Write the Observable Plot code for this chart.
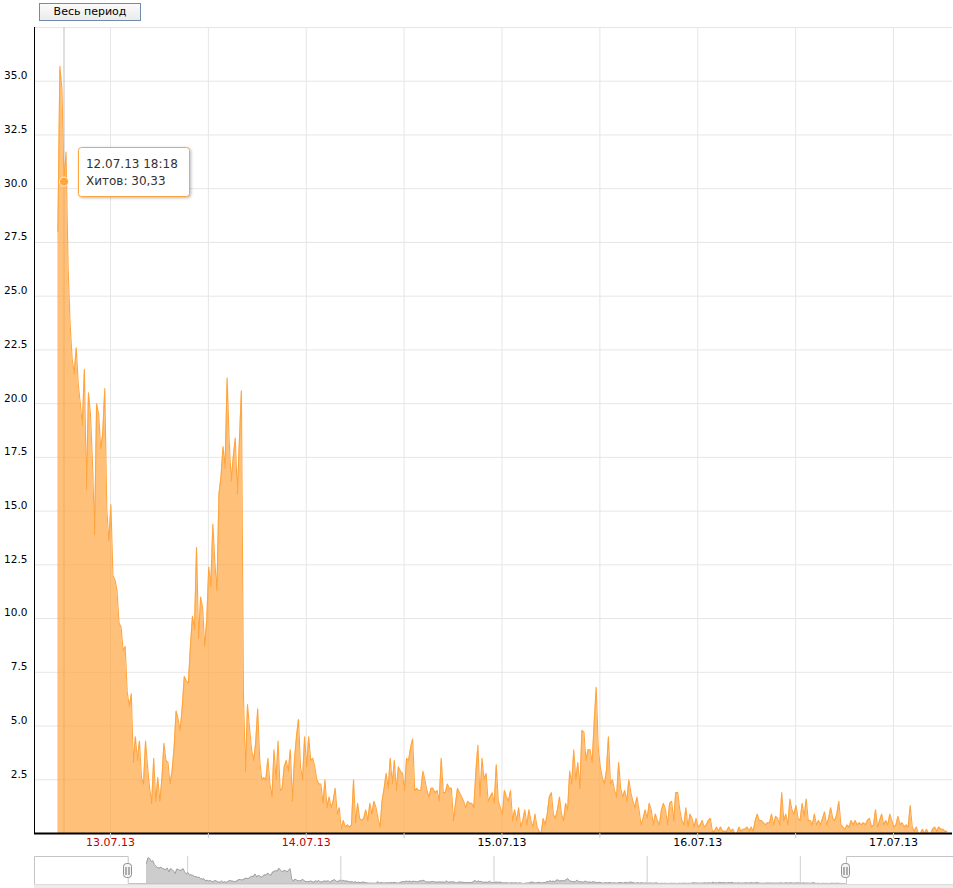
<!DOCTYPE html>
<html>
<head>
<meta charset="utf-8">
<script src="https://cdn.jsdelivr.net/npm/d3@7"></script>
<script src="https://cdn.jsdelivr.net/npm/@observablehq/plot@0.6"></script>
<style>
  html, body { margin: 0; padding: 0; background: #fff; }
  body { font-family: "DejaVu Sans", Verdana, sans-serif; }
  #wrap { position: relative; width: 953px; height: 888px; overflow: hidden; }
  #main { position: absolute; left: 0; top: 0; }
  #nav { position: absolute; left: 0; top: 846px; }
  #scroll { position: absolute; left: 34px; top: 884px; width: 919px; height: 4px; background: #ececec; border-top: 1px solid #dcdcdc; }
  #btn { position: absolute; left: 39px; top: 3px; width: 100px; height: 16px; border: 1px solid #6f8cab;
         background: linear-gradient(#fbfbfb, #ebebeb); font-size: 11px; line-height: 16px; text-align: center; color: #000; }
</style>
</head>
<body>
<div id="wrap">
  <div id="main"></div>
  <div id="nav"></div>
  <div id="scroll"></div>
  <div id="btn"></div>
</div>
<script>
// ---- data (hits per 15-minute interval) ----
const stepMinutes = 15;
const dayStarts = ["2013-07-12 17:33", "2013-07-13 00:03", "2013-07-14 00:03", "2013-07-15 00:03", "2013-07-16 00:03", "2013-07-17 00:03"];
const hits_12 = [28, 35.7, 34.6, 30.33, 31.7, 26.4, 23.7, 22.1, 21.4, 22.6, 20.9, 20.0, 19.0, 21.6, 16.0, 20.5, 19.5, 17.2, 13.9, 20.0, 19.5, 17.9, 18.6, 20.7, 15.1, 13.6];
const hits_13 = [
  15.3, 12.0, 11.8, 11.3, 9.8, 9.6, 8.5, 8.7, 6.6, 5.9,
  6.5, 3.3, 4.5, 3.4, 4.3, 2.6, 2.3, 4.3, 3.1, 2.1,
  1.4, 3.5, 1.5, 2.6, 1.5, 2.5, 4.2, 3.4, 3.3, 2.3,
  2.9, 4.0, 5.7, 5.3, 4.8, 5.9, 7.3, 7.1, 7.0, 8.7,
  10.1, 9.5, 13.3, 9.1, 11.0, 10.5, 8.7, 9.9, 12.4, 11.5,
  14.4, 12.6, 11.3, 15.8, 16.6, 18.0, 17.0, 21.2, 18.3, 16.4,
  17.5, 18.4, 15.8, 18.2, 20.6, 6.5, 2.9, 6.0, 4.9, 3.9,
  3.4, 4.2, 5.8, 3.4, 2.5, 2.6, 2.5, 3.5, 2.3, 1.7,
  3.9, 2.5, 4.3, 2.0, 2.1, 3.1, 3.4, 2.9, 3.9, 1.5,
  3.4, 4.5, 5.3, 3.1, 2.5, 4.5];
const hits_14 = [
  3.1, 4.5, 3.4, 3.5, 3.1, 2.5, 2.3, 2.3, 1.4, 2.5,
  1.2, 1.7, 1.2, 1.5, 2.1, 0.9, 1.2, 0.2, 0.6, 0.3,
  0.4, 0.3, 0.4, 2.5, 0.5, 1.4, 0.7, 0.6, 0.7, 1.1,
  0.6, 1.4, 0.9, 1.5, 1.2, 0.7, 0.3, 1.5, 2.1, 2.8,
  2.1, 3.5, 2.3, 3.4, 2.0, 3.1, 2.9, 2.8, 2.0, 3.5,
  3.4, 4.0, 4.4, 2.0, 2.1, 2.0, 2.0, 2.9, 2.5, 2.0,
  1.7, 2.1, 2.1, 1.9, 2.0, 1.5, 3.5, 1.9, 1.9, 2.3,
  2.1, 2.1, 0.6, 1.4, 2.1, 1.9, 1.7, 1.5, 1.2, 1.5,
  1.4, 1.4, 1.2, 2.9, 4.1, 1.7, 3.5, 2.5, 2.8, 1.5,
  1.7, 1.9, 1.4, 3.2, 1.5, 1.2];
const hits_15 = [
  0.9, 2.0, 1.7, 1.5, 2.0, 0.6, 1.1, 0.6, 1.2, 0.3,
  0.6, 1.1, 0.4, 1.1, 0.6, 0.3, 0.9, 0.3, 0.1, 0,
  0.7, 0.4, 0.9, 1.7, 1.9, 0.9, 0.7, 1.1, 1.7, 0.9,
  0.6, 1.4, 1.1, 2.9, 2.3, 3.9, 2.5, 3.3, 2.1, 4.8,
  4.7, 3.4, 3.9, 3.9, 3.3, 5.1, 6.8, 4.0, 3.1, 2.6,
  2.3, 2.9, 4.5, 2.3, 2.5, 2.0, 1.7, 3.3, 2.1, 1.7,
  2.0, 1.5, 2.5, 1.9, 1.5, 1.2, 1.7, 1.1, 0.4, 0.7,
  1.1, 0.7, 1.4, 1.1, 0.4, 0.9, 0.6, 0.4, 1.1, 1.4,
  1.1, 0.4, 1.4, 1.5, 0.6, 1.9, 1.9, 1.1, 0.6, 0.4,
  1.2, 0.3, 0.9, 0.7, 0.3, 0.7];
const hits_16 = [
  0.3, 0.4, 0.6, 0.3, 0.4, 0.6, 0.7, 0.1, 0.1, 0.3,
  0.1, 0.3, 0.1, 0.1, 0.1, 0.3, 0.1, 0.2, 0, 0,
  0.3, 0.1, 0.2, 0.2, 0.3, 0.1, 0.3, 0.1, 0.6, 0.9,
  0.6, 0.6, 0.5, 0.4, 0.5, 0.5, 0.9, 0.4, 0.8, 0.7,
  0.4, 1.9, 0.6, 0.9, 0.4, 1.6, 1.1, 0.9, 1.3, 0.7,
  0.6, 1.4, 0.8, 1.6, 0.6, 0.6, 0.4, 0.9, 0.4, 0.6,
  0.4, 0.7, 1.0, 0.4, 0.7, 1.2, 0.7, 0.6, 0.9, 1.5,
  0.4, 0.3, 0.2, 0.4, 0.3, 0.6, 0.4, 0.6, 0.4, 0.5,
  0.4, 0.5, 0.4, 0.6, 0.7, 0.3, 0.4, 1.1, 0.3, 0.6,
  0.9, 0.4, 0.6, 0.4, 0.9, 0.6];
const hits_17 = [
  0.3, 0.4, 0.8, 0.4, 0.5, 0.3, 0.4, 0.3, 1.3, 0.3,
  0.1, 0.3, 0, 0, 0.2, 0, 0.2, 0, 0, 0.2,
  0.3, 0.1, 0.3, 0.2, 0.2, 0.1, 0.1];

// ---- axes / labels ----
const yTicks = [2.5, 5, 7.5, 10, 12.5, 15, 17.5, 20, 22.5, 25, 27.5, 30, 32.5, 35];
const yGrid = [0, 2.5, 5, 7.5, 10, 12.5, 15, 17.5, 20, 22.5, 25, 27.5, 30, 32.5, 35, 37.5];
const yMax = 37.5;
const xLabelDays = ["2013-07-13", "2013-07-14", "2013-07-15", "2013-07-16", "2013-07-17"];
const xTickTimes = ["2013-07-13 00:00", "2013-07-13 12:00", "2013-07-14 00:00", "2013-07-14 12:00", "2013-07-15 00:00",
                    "2013-07-15 12:00", "2013-07-16 00:00", "2013-07-16 12:00", "2013-07-17 00:00"];
const navDays = ["2013-07-13", "2013-07-14", "2013-07-15", "2013-07-16", "2013-07-17"];
const viewRange = ["2013-07-12 14:41", "2013-07-17 07:14"];
const navRange = ["2013-07-12 00:00", "2013-07-18 00:00"];
const tooltipTime = "2013-07-12 18:18";
const seriesName = "Хитов";
const buttonLabel = "Весь период";

// ---- build ----
const parseTime = d3.timeParse("%Y-%m-%d %H:%M");
const parseDay = d3.timeParse("%Y-%m-%d");
const dayHits = [hits_12, hits_13, hits_14, hits_15, hits_16, hits_17];
const data = [];
dayHits.forEach((arr, k) => {
  const t0 = parseTime(dayStarts[k]);
  arr.forEach((v, i) => data.push({t: d3.timeMinute.offset(t0, stepMinutes * i), v}));
});
const [xStart, xEnd] = viewRange.map(parseTime);
const [navStart, navEnd] = navRange.map(parseTime);
const ticks12h = xTickTimes.map(parseTime);
const labelDays = xLabelDays.map(parseDay);
const tipT = parseTime(tooltipTime);
const tip = data.find(d => +d.t === +tipT);

const orange = "#ffa540";
const gridColor = "#e6e6e6";
const fmtDay = d3.timeFormat("%d.%m.%y");
const fmtTip = d3.timeFormat("%d.%m.%y %H:%M");

document.getElementById("btn").textContent = buttonLabel;

function tooltipMark(index, scales) {
  const px = scales.x(tip.t), py = scales.y(tip.v);
  const g = d3.create("svg:g").attr("text-anchor", "start");
  const bx = px + 14.5, by = py - 34;
  g.append("rect")
    .attr("x", Math.round(bx) + 0.5).attr("y", Math.round(by) + 0.5).attr("width", 111).attr("height", 49).attr("rx", 3)
    .attr("fill", "#fff").attr("stroke", orange).attr("stroke-width", 1)
    .style("filter", "drop-shadow(1px 1px 1.5px rgba(0,0,0,0.28))");
  const tx = px + 22.5;
  g.append("text").attr("x", tx).attr("y", py - 13).attr("text-anchor", "start")
    .attr("fill", "#333").attr("font-size", 12).attr("font-family", "DejaVu Sans, sans-serif")
    .text(fmtTip(tip.t));
  g.append("text").attr("x", tx).attr("y", py + 4).attr("text-anchor", "start")
    .attr("fill", "#333").attr("font-size", 12).attr("font-family", "DejaVu Sans, sans-serif")
    .text(seriesName + ": " + String(tip.v).replace(".", ","));
  return g.node();
}

const main = Plot.plot({
  width: 953, height: 852,
  marginTop: 27, marginBottom: 19, marginLeft: 34, marginRight: 1,
  style: {fontFamily: "DejaVu Sans, Verdana, sans-serif", fontSize: "11px", background: "transparent", overflow: "visible"},
  x: {type: "time", domain: [xStart, xEnd]},
  y: {domain: [0, yMax], axis: null},
  marks: [
    Plot.ruleY(yGrid, {stroke: gridColor, strokeWidth: 1}),
    Plot.ruleX(ticks12h, {stroke: gridColor, strokeWidth: 1}),
    Plot.ruleX([tip.t], {stroke: "#c0c0c0", strokeWidth: 1}),
    Plot.areaY(data, {x: "t", y: "v", fill: orange, fillOpacity: 0.7}),
    Plot.lineY(data, {x: "t", y: "v", stroke: orange, strokeWidth: 1.1}),
    Plot.ruleX([xStart], {stroke: "#000", strokeWidth: 1}),
    Plot.ruleY([0], {stroke: "#000", strokeWidth: 2}),
    Plot.axisX(ticks12h, {tickSize: 5, tickFormat: () => "", stroke: "#c0d0e0", label: null}),
    Plot.text(labelDays, {x: d => d, frameAnchor: "bottom", dy: 12, text: d => fmtDay(d),
      fill: d => (d.getDay() === 0 || d.getDay() === 6) ? "#c00000" : "#000", fontSize: 11}),
    Plot.text(yTicks, {y: d => d, frameAnchor: "left", dx: -7, dy: -5.5, textAnchor: "end",
      text: d => d.toFixed(1), fill: "#000", fontSize: 10.5}),
    Plot.dot([tip], {x: "t", y: "v", r: 4.5, fill: "#ffa53a", stroke: "#fff", strokeWidth: 1, strokeOpacity: 0.8}),
    tooltipMark
  ]
});
document.getElementById("main").appendChild(main);

function handleMark(index, scales, values, dims) {
  const g = d3.create("svg:g");
  const cy = dims.marginTop + (dims.height - dims.marginTop - dims.marginBottom) / 2 + 1;
  for (const t of [xStart, xEnd]) {
    const cx = Math.round(scales.x(t)) - 1;
    g.append("rect").attr("x", cx - 4 + 0.5).attr("y", cy - 7.5 + 0.5).attr("width", 8).attr("height", 14).attr("rx", 3)
      .attr("fill", "#f4f4f4").attr("stroke", "#909090");
    for (const o of [-1, 2]) {
      g.append("line").attr("x1", cx + o).attr("x2", cx + o)
        .attr("y1", cy - 3.5).attr("y2", cy + 4.5).attr("stroke", "#666");
    }
  }
  return g.node();
}

const outline = [
  {t: navStart, v: 0}, {t: navStart, v: yMax}, {t: xStart, v: yMax}, {t: xStart, v: 0},
  {t: xEnd, v: 0}, {t: xEnd, v: yMax}, {t: navEnd, v: yMax}
];
const nav = Plot.plot({
  width: 953, height: 42,
  marginTop: 10, marginBottom: 5, marginLeft: 34, marginRight: 0,
  style: {background: "transparent", overflow: "visible"},
  x: {type: "time", domain: [navStart, navEnd], axis: null},
  y: {domain: [0, yMax], axis: null},
  marks: [
    Plot.ruleX(navDays.map(parseDay), {stroke: "#cfcfcf"}),
    Plot.areaY(data, {x: "t", y: "v", fill: "#cdcdcd"}),
    Plot.lineY(data, {x: "t", y: "v", stroke: "#a0a0a0", strokeWidth: 1}),
    Plot.rect([{a: navStart, b: xStart}, {a: xEnd, b: navEnd}], {x1: "a", x2: "b", fill: "#fff", fillOpacity: 0.8}),
    Plot.line(outline, {x: "t", y: "v", stroke: "#c4c4c8", strokeWidth: 1}),
    handleMark
  ]
});
document.getElementById("nav").appendChild(nav);
</script>
</body>
</html>
